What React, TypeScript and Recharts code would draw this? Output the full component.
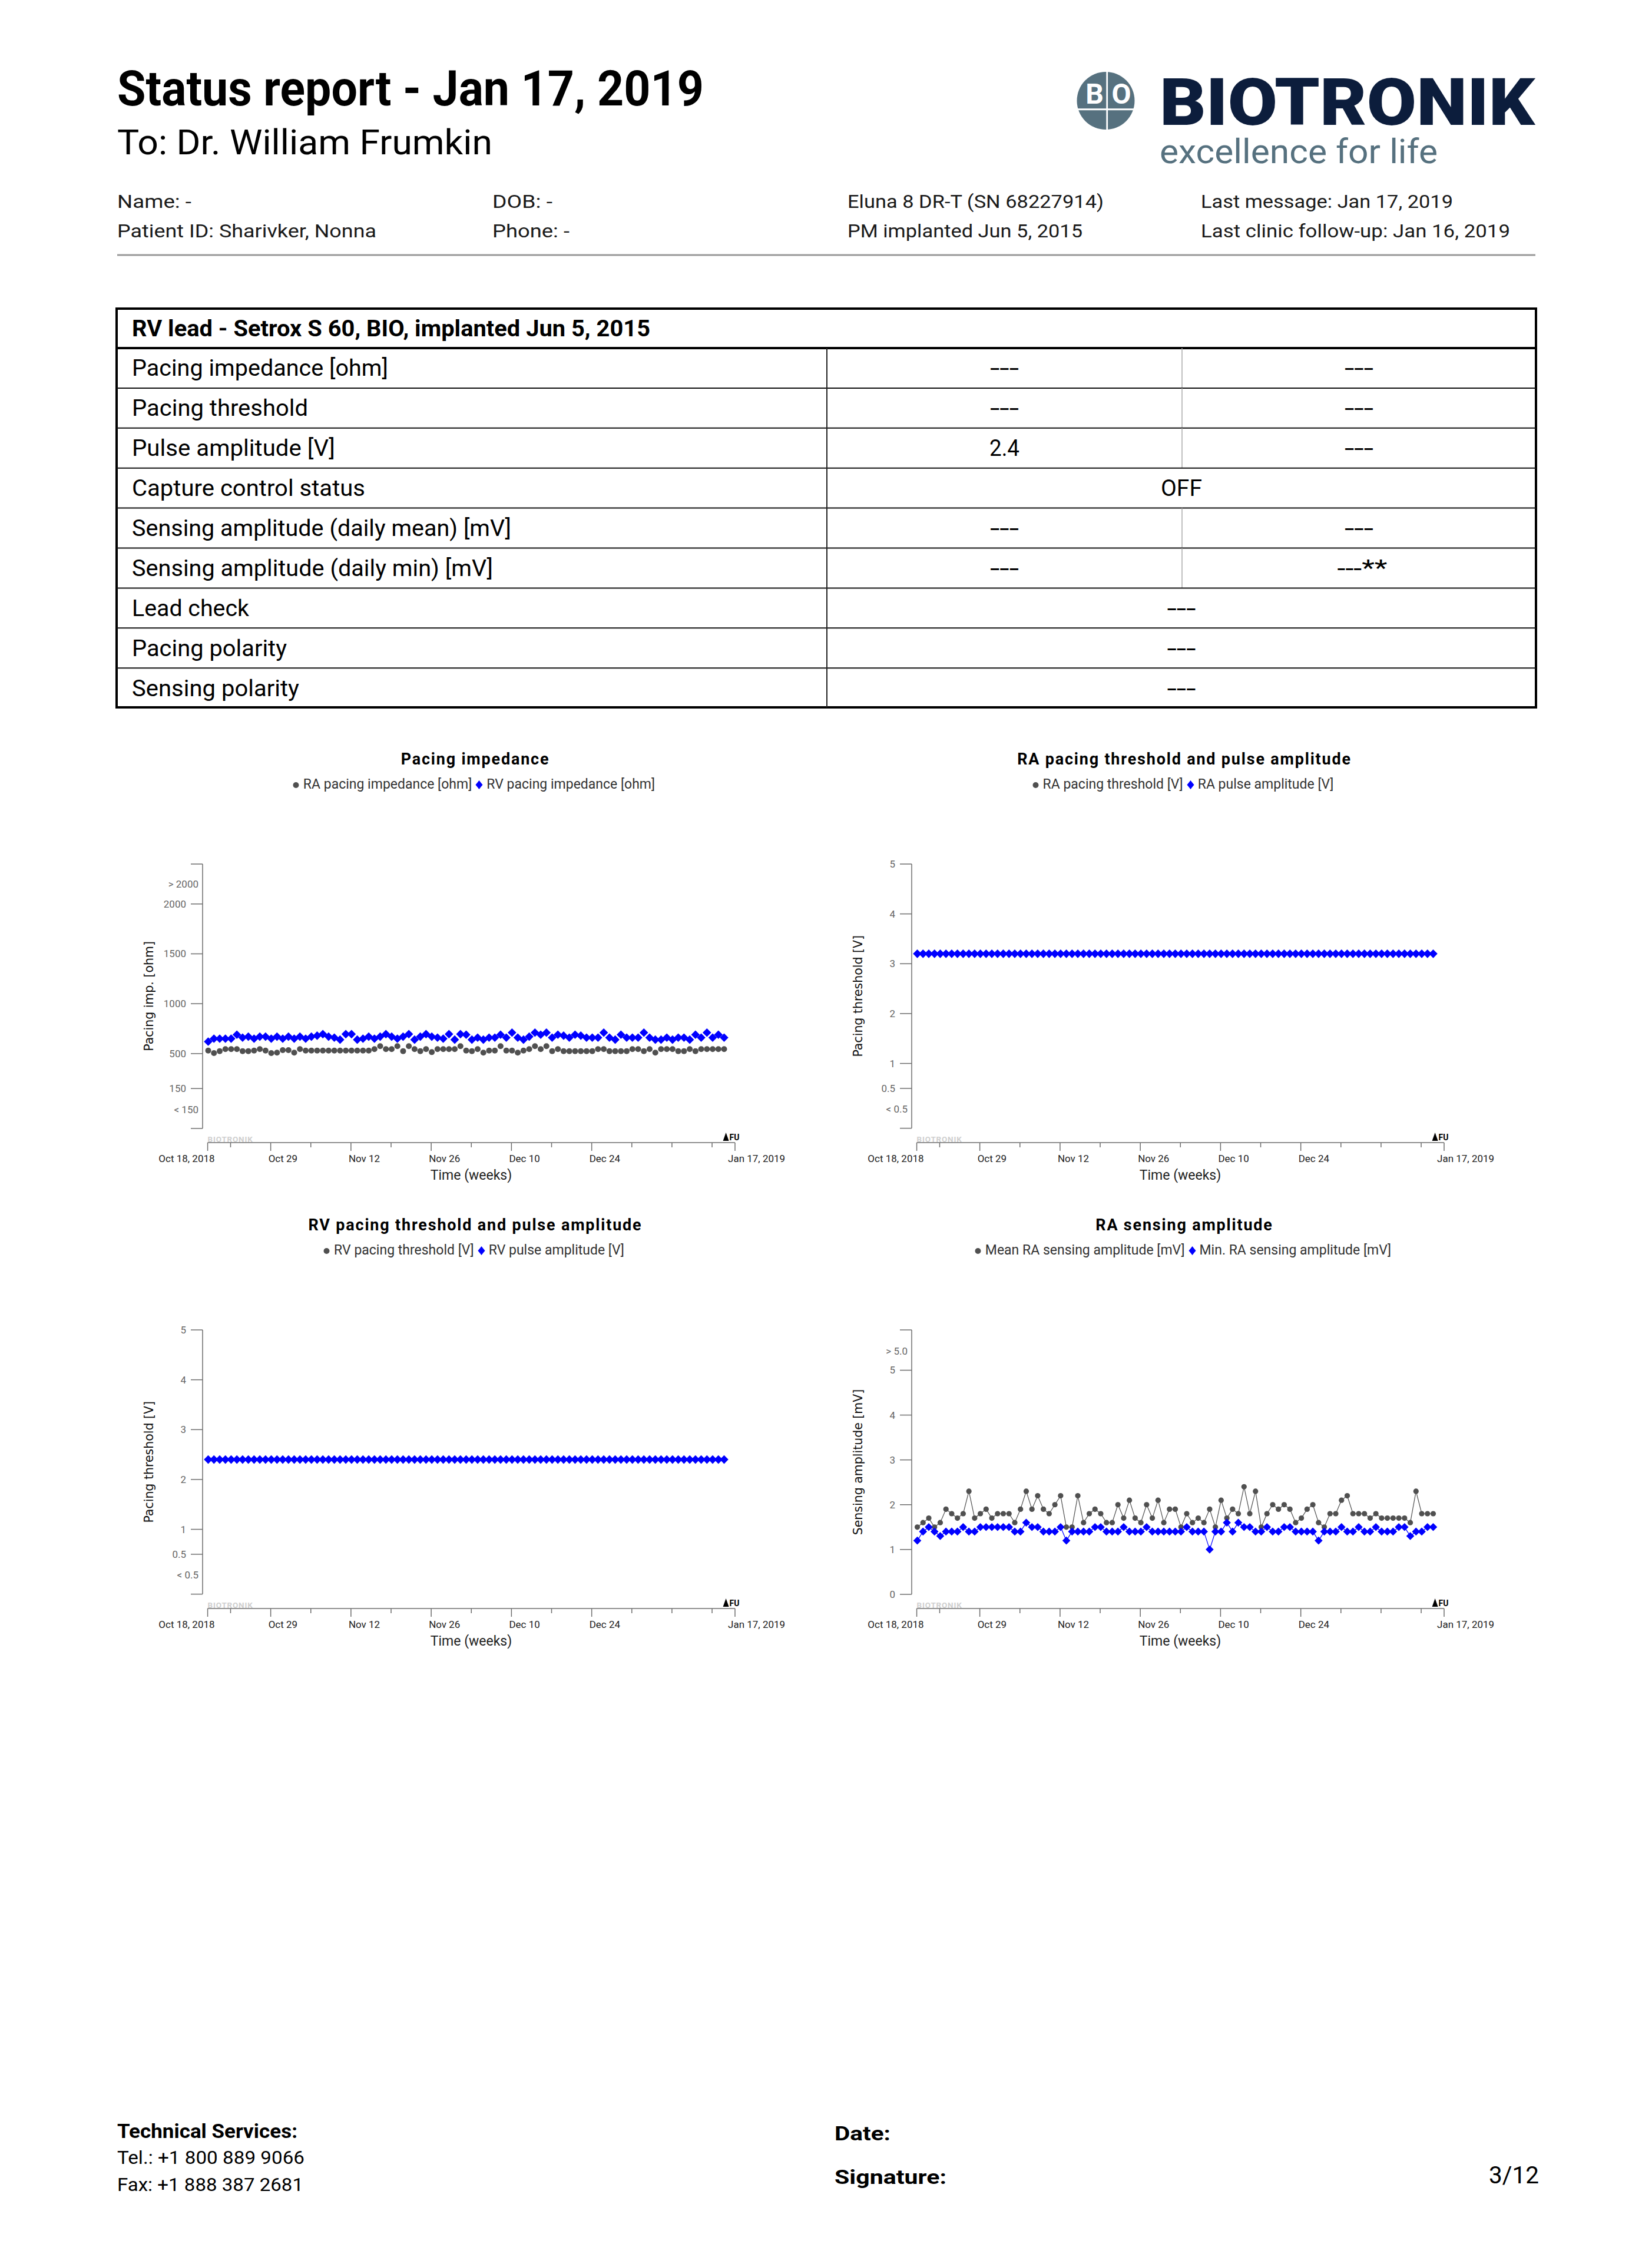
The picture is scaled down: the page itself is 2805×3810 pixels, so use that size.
import React from 'react';
import { ScatterChart, Scatter, XAxis, YAxis, Legend, ReferenceLine, ReferenceDot, Label } from 'recharts';

const FONT = 'Roboto, "Open Sans", sans-serif';
const AXIS_FONT = '"DejaVu Sans", Verdana, sans-serif';
const GRAY = '#505050';
const BLUE = '#0000ff';
const AXIS = '#6e6e6e';
const NAVY = '#0c1d3c';
const SLATE = '#56717f';

// time axis, in days since Oct 18, 2018 (Jan 17 ends at day 92)
const X_TICK_DAYS = [0, 4, 11, 18, 25, 32, 39, 46, 53, 60, 67, 74, 81, 88, 92];
const X_TICK_LABELS = ['Oct 18, 2018', '', 'Oct 29', '', 'Nov 12', '', 'Nov 26', '', 'Dec 10', '', 'Dec 24', '', '', '', 'Jan 17, 2019'];
const FOLLOW_UP_DAY = 90.42;
const READING_TIME = 0.1; // daily readings, fraction of the day

const IMP_TICKS = [-250, -60, 150, 500, 1000, 1500, 2000, 2200, 2400];
const IMP_TICK_LABELS = ['', '< 150', '150', '500', '1000', '1500', '2000', '> 2000', ''];
const VOLT_TICKS = [-0.3, 0.08, 0.5, 1, 2, 3, 4, 5];
const VOLT_TICK_LABELS = ['', '< 0.5', '0.5', '1', '2', '3', '4', '5'];
const SENSE_TICKS = [0, 1, 2, 3, 4, 5, 5.42, 5.9];
const SENSE_TICK_LABELS = ['0', '1', '2', '3', '4', '5', '> 5.0', ''];

const RA_IMPEDANCE = [
  530, 505, 525, 545, 545, 545, 525, 525, 530, 545,
  530, 505, 510, 535, 535, 510, 545, 530, 530, 530,
  530, 530, 530, 530, 530, 530, 530, 530, 530, 545,
  575, 545, 545, 575, 525, 575, 545, 525, 545, 515,
  545, 545, 545, 545, 575, 530, 525, 545, 510, 530,
  530, 575, 530, 530, 510, 530, 545, 575, 545, 575,
  525, 545, 525, 525, 525, 525, 525, 525, 545, 545,
  525, 525, 525, 525, 545, 545, 525, 545, 510, 545,
  545, 545, 525, 525, 545, 525, 545, 545, 545, 545, 545,
];
const RV_IMPEDANCE = [
  620, 650, 650, 650, 650, 690, 660, 670, 650, 670,
  670, 650, 670, 650, 670, 650, 670, 650, 670, 680,
  695, 670, 660, 640, 695, 695, 640, 650, 670, 650,
  670, 695, 670, 650, 670, 695, 640, 670, 695, 670,
  660, 650, 695, 640, 695, 690, 640, 660, 640, 660,
  660, 690, 660, 710, 660, 640, 670, 710, 690, 710,
  660, 690, 680, 660, 690, 680, 660, 660, 660, 710,
  660, 640, 690, 660, 660, 660, 710, 660, 640, 640,
  660, 640, 660, 660, 640, 690, 660, 710, 660, 690, 660,
];
const RA_THRESHOLD: number[] = [];
const RA_PULSE_AMP = [
  3.2, 3.2, 3.2, 3.2, 3.2, 3.2, 3.2, 3.2, 3.2, 3.2, 3.2, 3.2, 3.2,
  3.2, 3.2, 3.2, 3.2, 3.2, 3.2, 3.2, 3.2, 3.2, 3.2, 3.2, 3.2, 3.2,
  3.2, 3.2, 3.2, 3.2, 3.2, 3.2, 3.2, 3.2, 3.2, 3.2, 3.2, 3.2, 3.2,
  3.2, 3.2, 3.2, 3.2, 3.2, 3.2, 3.2, 3.2, 3.2, 3.2, 3.2, 3.2, 3.2,
  3.2, 3.2, 3.2, 3.2, 3.2, 3.2, 3.2, 3.2, 3.2, 3.2, 3.2, 3.2, 3.2,
  3.2, 3.2, 3.2, 3.2, 3.2, 3.2, 3.2, 3.2, 3.2, 3.2, 3.2, 3.2, 3.2,
  3.2, 3.2, 3.2, 3.2, 3.2, 3.2, 3.2, 3.2, 3.2, 3.2, 3.2, 3.2, 3.2,
];
const RV_THRESHOLD: number[] = [];
const RV_PULSE_AMP = [
  2.4, 2.4, 2.4, 2.4, 2.4, 2.4, 2.4, 2.4, 2.4, 2.4, 2.4, 2.4, 2.4,
  2.4, 2.4, 2.4, 2.4, 2.4, 2.4, 2.4, 2.4, 2.4, 2.4, 2.4, 2.4, 2.4,
  2.4, 2.4, 2.4, 2.4, 2.4, 2.4, 2.4, 2.4, 2.4, 2.4, 2.4, 2.4, 2.4,
  2.4, 2.4, 2.4, 2.4, 2.4, 2.4, 2.4, 2.4, 2.4, 2.4, 2.4, 2.4, 2.4,
  2.4, 2.4, 2.4, 2.4, 2.4, 2.4, 2.4, 2.4, 2.4, 2.4, 2.4, 2.4, 2.4,
  2.4, 2.4, 2.4, 2.4, 2.4, 2.4, 2.4, 2.4, 2.4, 2.4, 2.4, 2.4, 2.4,
  2.4, 2.4, 2.4, 2.4, 2.4, 2.4, 2.4, 2.4, 2.4, 2.4, 2.4, 2.4, 2.4,
];
const RA_SENSE_MEAN = [
  1.5, 1.6, 1.7, 1.5, 1.6, 1.9, 1.8, 1.7, 1.8, 2.3,
  1.7, 1.8, 1.9, 1.7, 1.8, 1.8, 1.8, 1.6, 1.9, 2.3,
  1.9, 2.2, 1.9, 1.8, 2.0, 2.2, 1.5, 1.5, 2.2, 1.6,
  1.8, 1.9, 1.8, 1.6, 1.6, 2.0, 1.7, 2.1, 1.7, 1.6,
  2.0, 1.7, 2.1, 1.6, 1.9, 1.9, 1.5, 1.8, 1.6, 1.7,
  1.6, 1.9, 1.5, 2.1, 1.7, 1.9, 1.8, 2.4, 1.8, 2.3,
  1.5, 1.8, 2.0, 1.9, 2.0, 1.9, 1.6, 1.7, 1.9, 2.0,
  1.6, 1.5, 1.8, 1.8, 2.1, 2.2, 1.8, 1.8, 1.8, 1.7,
  1.8, 1.7, 1.7, 1.7, 1.7, 1.7, 1.6, 2.3, 1.8, 1.8, 1.8,
];
const RA_SENSE_MIN = [
  1.2, 1.4, 1.5, 1.4, 1.3, 1.4, 1.4, 1.4, 1.5, 1.4,
  1.4, 1.5, 1.5, 1.5, 1.5, 1.5, 1.5, 1.4, 1.4, 1.6,
  1.5, 1.5, 1.4, 1.4, 1.4, 1.5, 1.2, 1.4, 1.4, 1.4,
  1.4, 1.5, 1.5, 1.4, 1.4, 1.4, 1.5, 1.4, 1.4, 1.4,
  1.5, 1.4, 1.4, 1.4, 1.4, 1.4, 1.4, 1.5, 1.4, 1.4,
  1.4, 1.0, 1.4, 1.4, 1.6, 1.4, 1.6, 1.5, 1.5, 1.4,
  1.4, 1.5, 1.4, 1.4, 1.5, 1.5, 1.4, 1.4, 1.4, 1.4,
  1.2, 1.4, 1.4, 1.4, 1.5, 1.4, 1.4, 1.5, 1.4, 1.4,
  1.5, 1.4, 1.4, 1.4, 1.5, 1.5, 1.3, 1.4, 1.4, 1.5, 1.5,
];

const TABLE_HEADER = 'RV lead - Setrox S 60, BIO, implanted Jun 5, 2015';
const TABLE_ROWS: [string, string, string | null][] = [
  ['Pacing impedance [ohm]', '---', '---'],
  ['Pacing threshold', '---', '---'],
  ['Pulse amplitude [V]', '2.4', '---'],
  ['Capture control status', 'OFF', null],
  ['Sensing amplitude (daily mean) [mV]', '---', '---'],
  ['Sensing amplitude (daily min) [mV]', '---', '---**'],
  ['Lead check', '---', null],
  ['Pacing polarity', '---', null],
  ['Sensing polarity', '---', null],
];
const ROW_LABEL_WIDTHS = [435, 299, 345, 396, 644, 613, 199, 263, 284];

const W = 1200;
const H = 800;
const MARGIN = { top: 217, right: 152, bottom: 30, left: 0 };
const X_DOMAIN: [number, number] = [-0.88, 92];

const toPoints = (values: number[]) => values.map((v, i) => ({ x: i + READING_TIME, y: v }));

const yTick = (ticks: number[], labels: string[]) => (props: any) => {
  const { x, y, payload } = props;
  const label = labels[ticks.indexOf(payload.value)] ?? '';
  const bare = label.startsWith('<') || label.startsWith('>');
  return (
    <g>
      {!bare && <line x1={x - 20} x2={x} y1={y} y2={y} stroke={AXIS} strokeWidth={1.5} />}
      {label && (
        <text x={bare ? x - 7 : x - 28} y={y} dy="0.35em" textAnchor="end" fontSize={17} fontFamily={FONT} fill="#666">
          {label}
        </text>
      )}
    </g>
  );
};

const xTick = (props: any) => {
  const { x, y, payload } = props;
  const i = X_TICK_DAYS.indexOf(payload.value);
  const label = X_TICK_LABELS[i] ?? '';
  const first = i === 0;
  const last = i === X_TICK_DAYS.length - 1;
  const tx = first ? x + 12 : last ? x - 12 : x - 4;
  return (
    <g>
      <line x1={x} x2={x} y1={y} y2={y + (label ? 14 : 8)} stroke={AXIS} strokeWidth={1.5} />
      {label && (
        <text x={tx} y={y + 33} textAnchor={first ? 'end' : 'start'} fontSize={17} fontFamily={FONT} fill="#222">
          {label}
        </text>
      )}
    </g>
  );
};

const dot = (r: number) => (p: any) => <circle cx={p.cx} cy={p.cy} r={r} fill={GRAY} />;
const diamond = (d: number) => (p: any) => (
  <path d={`M${p.cx},${p.cy - d}L${p.cx + d},${p.cy}L${p.cx},${p.cy + d}L${p.cx - d},${p.cy}Z`} fill={BLUE} />
);

const legendContent = (p: any) => (
  <div style={{ textAlign: 'center', fontSize: 23, lineHeight: '26px', color: '#333', fontFamily: FONT, whiteSpace: 'nowrap' }}>
    {(p.payload || []).map((e: any) => (
      <span key={e.value} style={{ marginRight: 6 }}>
        <svg width={13} height={16} style={{ verticalAlign: '-1px', marginRight: 6 }}>
          {e.type === 'circle' ? (
            <circle cx={6.5} cy={9} r={5} fill={e.color} />
          ) : (
            <path d="M6.5,1L12.5,8.5L6.5,16L0.5,8.5Z" fill={e.color} />
          )}
        </svg>
        {e.value}
      </span>
    ))}
  </div>
);

interface TrendProps {
  left: number;
  top: number;
  title: string;
  grayName: string;
  blueName: string;
  yLabel: string;
  yDomain: [number, number];
  yRange: [number, number];
  yTicks: number[];
  yTickLabels: string[];
  gray: number[];
  blue: number[];
  connect?: boolean;
  r: number;
  d: number;
}

const TrendChart: React.FC<TrendProps> = ({ left, top, title, grayName, blueName, yLabel, yDomain, yRange, yTicks, yTickLabels, gray, blue, connect, r, d }) => {
  const mid = (yRange[0] + yRange[1]) / 2;
  return (
    <div style={{ position: 'absolute', left, top, width: W, height: H }}>
      <svg style={{ position: 'absolute', left: 0, top: 0 }} width={W} height={60}>
        <text x={607} y={48} textAnchor="middle" fontSize={27} fontWeight={700} letterSpacing={1.8} fontFamily={FONT} fill="#000">
          {title}
        </text>
      </svg>
      <ScatterChart width={W} height={H} margin={MARGIN}>
        <XAxis
          type="number"
          dataKey="x"
          domain={X_DOMAIN}
          allowDataOverflow
          ticks={X_TICK_DAYS}
          interval={0}
          axisLine={false}
          tickLine={false}
          tickSize={0}
          tickMargin={0}
          height={80}
          tick={xTick}
        >
          <Label
            content={(p: any) => (
              <text x={p.viewBox.x + p.viewBox.width / 2 + 4} y={p.viewBox.y + 63} textAnchor="middle" fontSize={23} fontFamily={FONT} fill="#222">
                Time (weeks)
              </text>
            )}
          />
        </XAxis>
        <YAxis
          type="number"
          dataKey="y"
          domain={yDomain}
          allowDataOverflow
          ticks={yTicks}
          interval={0}
          axisLine={false}
          tickLine={false}
          tickSize={0}
          tickMargin={0}
          width={144}
          tick={yTick(yTicks, yTickLabels)}
        >
          <Label
            content={(p: any) => {
              const vb = p.viewBox;
              const cy = vb.y + ((yDomain[1] - mid) / (yDomain[1] - yDomain[0])) * vb.height;
              return (
                <text transform={`translate(${vb.x + 60},${cy}) rotate(-90)`} textAnchor="middle" fontSize={20.5} fontFamily={AXIS_FONT} fill="#111">
                  {yLabel}
                </text>
              );
            }}
          />
        </YAxis>
        <ReferenceLine segment={[{ x: X_DOMAIN[0], y: yRange[0] }, { x: X_DOMAIN[0], y: yRange[1] }]} stroke={AXIS} strokeWidth={1.5} ifOverflow="visible" />
        <ReferenceLine segment={[{ x: 0, y: yDomain[0] }, { x: X_DOMAIN[1], y: yDomain[0] }]} stroke={AXIS} strokeWidth={1.5} ifOverflow="visible" />
        <ReferenceDot
          x={0}
          y={yDomain[0]}
          ifOverflow="visible"
          shape={(p: any) => (
            <text x={p.cx} y={p.cy - 1} fontSize={13.5} fontWeight={700} letterSpacing={0.8} fontFamily={FONT} fill="#cfcfcf">
              BIOTRONIK
            </text>
          )}
        />
        <ReferenceDot
          x={FOLLOW_UP_DAY}
          y={yDomain[0]}
          ifOverflow="visible"
          shape={(p: any) => (
            <g>
              <path d={`M${p.cx - 5},${p.cy - 3}L${p.cx},${p.cy - 17}L${p.cx + 5},${p.cy - 3}Z`} fill="#000" />
              <text x={p.cx + 6} y={p.cy - 4} fontSize={14} fontWeight={700} fontFamily={FONT} fill="#000">
                FU
              </text>
            </g>
          )}
        />
        <Legend
          verticalAlign="middle"
          align="center"
          layout="horizontal"
          wrapperStyle={{ top: 69, left: 157, width: 900 }}
          content={legendContent}
        />
        <Scatter
          name={grayName}
          data={toPoints(gray)}
          fill={GRAY}
          legendType="circle"
          shape={dot(r)}
          line={connect ? { stroke: GRAY, strokeWidth: 1.2 } : false}
          isAnimationActive={false}
        />
        <Scatter
          name={blueName}
          data={toPoints(blue)}
          fill={BLUE}
          legendType="diamond"
          shape={diamond(d)}
          line={connect ? { stroke: BLUE, strokeWidth: 1.2 } : false}
          isAnimationActive={false}
        />
      </ScatterChart>
    </div>
  );
};

const T = ({ x, y, s, w, b = 400, fill = '#000', anchor = 'start', children }: any) => (
  <text x={x} y={y} fontSize={s} fontWeight={b} fill={fill} textAnchor={anchor} fontFamily={FONT} textLength={w} lengthAdjust="spacingAndGlyphs">
    {children}
  </text>
);

const ROW_TOP = 591;
const ROW_H = 67.9;
const COL1 = 1404;
const COL2 = 2007;
const RIGHT = 2608;

const Page = () => (
  <svg style={{ position: 'absolute', left: 0, top: 0 }} width={2805} height={3810}>
    <T x={199} y={179} s={83} b={700} w={996}>Status report - Jan 17, 2019</T>
    <T x={199} y={262} s={59} w={637}>To: Dr. William Frumkin</T>

    <circle cx={1877.5} cy={171} r={49} fill={SLATE} />
    <rect x={1878.3} y={121} width={2.8} height={100} fill="#fff" />
    <rect x={1827} y={184.2} width={101} height={3} fill="#fff" />
    <text x={1858.5} y={176} textAnchor="middle" fontSize={48} fontWeight={700} fontFamily={FONT} fill="#fff">B</text>
    <text x={1904} y={176} textAnchor="middle" fontSize={48} fontWeight={700} fontFamily={FONT} fill="#fff">O</text>
    <T x={1969} y={212} s={112} b={900} w={637} fill={NAVY}>BIOTRONIK</T>
    <T x={1969} y={277} s={58} w={472} fill={SLATE}>excellence for life</T>

    <T x={199} y={353} s={32} w={126} fill="#1a1a1a">Name: -</T>
    <T x={836} y={353} s={32} w={102} fill="#1a1a1a">DOB: -</T>
    <T x={1439} y={353} s={32} w={435} fill="#1a1a1a">Eluna 8 DR-T (SN 68227914)</T>
    <T x={2039} y={353} s={32} w={428} fill="#1a1a1a">Last message: Jan 17, 2019</T>
    <T x={199} y={403} s={32} w={440} fill="#1a1a1a">Patient ID: Sharivker, Nonna</T>
    <T x={836} y={403} s={32} w={131} fill="#1a1a1a">Phone: -</T>
    <T x={1439} y={403} s={32} w={399} fill="#1a1a1a">PM implanted Jun 5, 2015</T>
    <T x={2039} y={403} s={32} w={525} fill="#1a1a1a">Last clinic follow-up: Jan 16, 2019</T>
    <rect x={199} y={431.5} width={2408} height={3} fill="#9a9a9a" />

    <rect x={198} y={524} width={RIGHT - 198} height={677} fill="none" stroke="#000" strokeWidth={4} />
    <line x1={198} x2={RIGHT} y1={ROW_TOP} y2={ROW_TOP} stroke="#000" strokeWidth={4} />
    <T x={224} y={570.5} s={38} b={700} w={880}>{TABLE_HEADER}</T>
    {TABLE_ROWS.map((row, k) => {
      const y0 = ROW_TOP + ROW_H * k;
      const base = y0 + ROW_H / 2 + 13.5;
      const [label, a, b] = row;
      const vw = (v: string) => (v === 'OFF' ? 70 : v === '2.4' ? 51 : v === '---**' ? 85 : 49);
      return (
        <g key={label}>
          {k > 0 && <line x1={198} x2={RIGHT} y1={y0} y2={y0} stroke="#111" strokeWidth={2} />}
          {b !== null && <line x1={COL2} x2={COL2} y1={y0} y2={y0 + ROW_H} stroke="#aaa" strokeWidth={1.5} />}
          <T x={224} y={base} s={38} w={ROW_LABEL_WIDTHS[k]}>{label}</T>
          {b !== null ? (
            <>
              <T x={(COL1 + COL2) / 2} y={base} s={38} w={vw(a)} anchor="middle">{a}</T>
              <T x={b === '---**' ? 2313 : (COL2 + RIGHT) / 2} y={base} s={38} w={vw(b)} anchor="middle">{b}</T>
            </>
          ) : (
            <T x={(COL1 + RIGHT) / 2} y={base} s={38} w={vw(a)} anchor="middle">{a}</T>
          )}
        </g>
      );
    })}
    <line x1={COL1} x2={COL1} y1={ROW_TOP} y2={1201} stroke="#222" strokeWidth={2} />

    <T x={199} y={3630} s={34} b={700} w={306}>Technical Services:</T>
    <T x={199} y={3674} s={32} w={318}>Tel.: +1 800 889 9066</T>
    <T x={199} y={3720} s={32} w={316}>Fax: +1 888 387 2681</T>
    <T x={1417} y={3634} s={34} b={700} w={95}>Date:</T>
    <T x={1417} y={3708} s={34} b={700} w={190}>Signature:</T>
    <T x={2528} y={3707} s={40} w={85}>3/12</T>
  </svg>
);

export default function App() {
  return (
    <div style={{ position: 'absolute', left: 0, top: 0, width: 2805, height: 3810, background: '#fff', fontFamily: FONT }}>
      <Page />
      <TrendChart
        left={200}
        top={1250}
        title="Pacing impedance"
        grayName="RA pacing impedance [ohm]"
        blueName="RV pacing impedance [ohm]"
        yLabel="Pacing imp. [ohm]"
        yDomain={[-392, 2400]}
        yRange={[-250, 2400]}
        yTicks={IMP_TICKS}
        yTickLabels={IMP_TICK_LABELS}
        gray={RA_IMPEDANCE}
        blue={RV_IMPEDANCE}
        r={5}
        d={7.3}
      />
      <TrendChart
        left={1404}
        top={1250}
        title="RA pacing threshold and pulse amplitude"
        grayName="RA pacing threshold [V]"
        blueName="RA pulse amplitude [V]"
        yLabel="Pacing threshold [V]"
        yDomain={[-0.588, 5]}
        yRange={[-0.3, 5]}
        yTicks={VOLT_TICKS}
        yTickLabels={VOLT_TICK_LABELS}
        gray={RA_THRESHOLD}
        blue={RA_PULSE_AMP}
        r={5}
        d={7.3}
      />
      <TrendChart
        left={200}
        top={2041}
        title="RV pacing threshold and pulse amplitude"
        grayName="RV pacing threshold [V]"
        blueName="RV pulse amplitude [V]"
        yLabel="Pacing threshold [V]"
        yDomain={[-0.588, 5]}
        yRange={[-0.3, 5]}
        yTicks={VOLT_TICKS}
        yTickLabels={VOLT_TICK_LABELS}
        gray={RV_THRESHOLD}
        blue={RV_PULSE_AMP}
        r={5}
        d={7.3}
      />
      <TrendChart
        left={1404}
        top={2041}
        title="RA sensing amplitude"
        grayName="Mean RA sensing amplitude [mV]"
        blueName="Min. RA sensing amplitude [mV]"
        yLabel="Sensing amplitude [mV]"
        yDomain={[-0.316, 5.9]}
        yRange={[0, 5.9]}
        yTicks={SENSE_TICKS}
        yTickLabels={SENSE_TICK_LABELS}
        gray={RA_SENSE_MEAN}
        blue={RA_SENSE_MIN}
        connect
        r={4.6}
        d={6.8}
      />
    </div>
  );
}
